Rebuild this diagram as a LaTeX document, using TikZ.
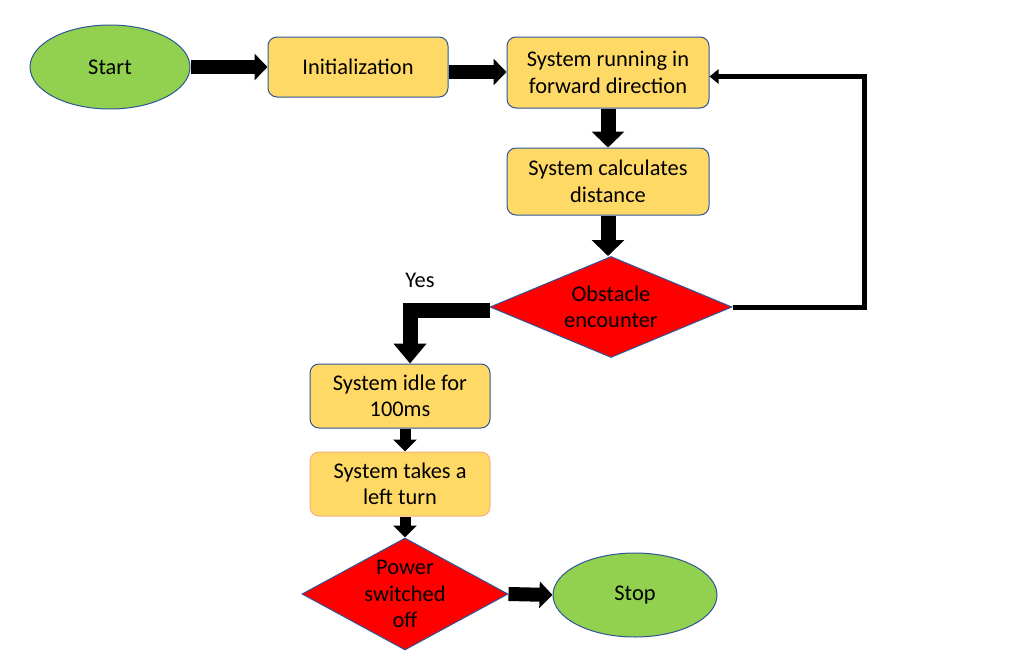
\documentclass[tikz,border=0pt]{standalone}
\usepackage{fontspec}
\setmainfont{Carlito}
\usetikzlibrary{shapes.geometric,arrows.meta}
\definecolor{flowgreen}{HTML}{92D050}
\definecolor{flowyellow}{HTML}{FFD966}
\definecolor{flowblue}{HTML}{2F5597}
\definecolor{flowpeach}{HTML}{F4B183}
\tikzset{
  term/.style={ellipse, draw=flowblue, fill=flowgreen, line width=1pt, inner sep=0pt},
  proc/.style={rectangle, rounded corners=9pt, draw=flowblue, fill=flowyellow, line width=1pt, align=center, inner sep=0pt},
  decide/.style={diamond, draw=flowblue, fill=red, line width=1pt, align=center, inner sep=-14pt},
  bigarrow/.style={line width=15pt, -{Triangle[width=32pt,length=16pt]}},
  sidearrow/.style={line width=14pt, -{Triangle[width=26pt,length=13pt]}},
  smallarrow/.style={line width=11pt, -{Triangle[width=23pt,length=12pt]}},
}
\begin{document}
\begin{tikzpicture}[x=1pt,y=-1pt,font=\fontsize{22.4}{26.5}\selectfont]
      \useasboundingbox (0,0) rectangle (1023,664);
      \node[term, minimum width=160, minimum height=84] (start) at (110,67) {Start};
      \node[proc, minimum width=180, minimum height=60] (init) at (358,67) {Initialization};
      \node[proc, minimum width=202, minimum height=71] (run) at (608,72.5) {System running in\\forward direction};
      \node[proc, minimum width=202, minimum height=67] (calc) at (608,181.5) {System calculates\\distance};
      \node[decide, shape aspect=2.4, minimum width=242, minimum height=101] (obst) at (611,307) {Obstacle\\encounter};
      \node[proc, minimum width=180, minimum height=64] (idle) at (400,396) {System idle for\\100ms};
      \node[proc, draw=flowpeach, minimum width=180, minimum height=64] (turn) at (400,484) {System takes a\\left turn};
      \node[decide, shape aspect=1.84, minimum width=206, minimum height=112] (power) at (405,594) {Power\\switched\\off};
      \node[term, minimum width=164, minimum height=84] (stop) at (635,595) {Stop};
      \node (yes) at (420,280) {Yes};
      \coordinate (loopcorner) at (864,307);
      % main flow
      \draw[sidearrow] (start.east) -- (init.west);
      \draw[sidearrow] ([yshift=-5]init.east) -- ([yshift=-5]init.east -| run.west);
      \draw[bigarrow] (run.south) -- (calc.north);
      \draw[bigarrow] (calc.south) -- (calc.south |- obst.north);
      \draw[line width=15pt, -{Triangle[width=32pt,length=20pt]}] ([yshift=-3]obst.west) -| ([xshift=10]idle.north);
      \draw[smallarrow] ([xshift=5]idle.south) -- ([xshift=5]turn.south |- turn.north);
      \draw[smallarrow] ([xshift=5]turn.south) -- (power.north);
      \draw[sidearrow] (power.east) -- (stop.west);
      % no obstacle: back to running
      \draw[line width=5pt, -{Triangle[width=14pt,length=9pt]}] (obst.east) -- (loopcorner) |- ([yshift=-4]run.east);
\end{tikzpicture}
\end{document}
